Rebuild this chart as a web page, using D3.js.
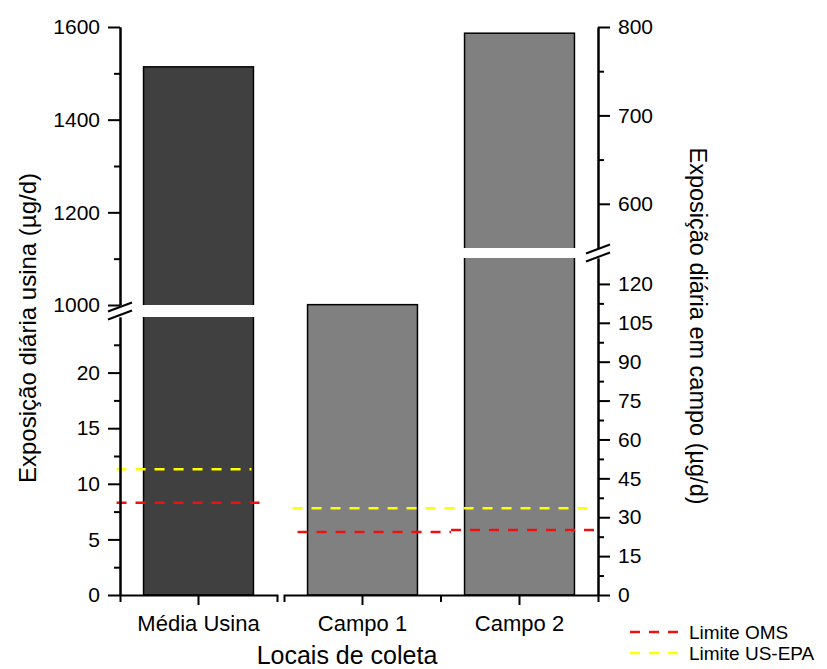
<!DOCTYPE html>
<html>
<head>
<meta charset="utf-8">
<script src="https://cdn.jsdelivr.net/npm/d3@7"></script>
<style>
  body { margin: 0; background: white; }
  text { font-family: "Liberation Sans", Arial, sans-serif; }
</style>
</head>
<body>
<div id="chart"></div>
<script>
// Data
const categoriasUsina = ["Média Usina"];
const categoriasCampo = ["Campo 1", "Campo 2"];
const valoresUsina = [1514];
const valoresCampo = [112, 793];
const limiteOMSUsina = [8.3];
const limiteEPAUsina = [11.3];
const limiteOMSCampo = [24.3, 25.1];
const limiteEPACampo = [33.5, 33.5];

const ticksUsinaBaixo = [0, 5, 10, 15, 20];
const minorUsinaBaixo = [2.5, 7.5, 12.5, 17.5, 22.5];
const ticksUsinaAlto = [1000, 1200, 1400, 1600];
const minorUsinaAlto = [1100, 1300, 1500];
const ticksCampoBaixo = [0, 15, 30, 45, 60, 75, 90, 105, 120];
const minorCampoBaixo = [7.5, 22.5, 37.5, 52.5, 67.5, 82.5, 97.5, 112.5];
const ticksCampoAlto = [600, 700, 800];
const minorCampoAlto = [650, 750];

const legendItems = [
  { label: "Limite OMS", color: "#ee1111" },
  { label: "Limite US-EPA", color: "#ffff00" }
];

let width = 827, height = 669;
let baseY = 595;
let leftX = 120, rightX = 598;

let svg = d3.select('#chart')
  .append('svg')
  .attr('width', width)
  .attr('height', height)
  .style('background', 'white');

// x scales, one per panel
const xUsina = d3.scaleBand()
  .domain(categoriasUsina)
  .range([leftX, 277])
  .paddingInner(0.3)
  .paddingOuter(0.15);

const xCampo = d3.scaleBand()
  .domain(categoriasCampo)
  .range([284, rightX])
  .paddingInner(0.3)
  .paddingOuter(0.15);

// broken y scales
const yUsinaBaixo = d3.scaleLinear().domain([0, 25]).range([baseY, 317]);
const yUsinaAlto = d3.scaleLinear().domain([1000, 1600]).range([305, 27]);
const yCampoBaixo = d3.scaleLinear().domain([0, 130]).range([baseY, 258]);
const yCampoAlto = d3.scaleLinear().domain([550, 800]).range([248, 27]);

const usinaColor = "#404040";
const campoColor = "#808080";

// Bars: Média Usina (value in upper segment)
categoriasUsina.forEach((c, i) => {
  const x = xUsina(c), w = xUsina.bandwidth();
  svg.append('rect')
    .attr('x', x).attr('y', yUsinaAlto(valoresUsina[i]))
    .attr('width', w).attr('height', baseY - yUsinaAlto(valoresUsina[i]))
    .attr('fill', usinaColor).attr('stroke', 'black').attr('stroke-width', 1.5);
  // white gap at the break
  svg.append('rect')
    .attr('x', x - 2).attr('y', yUsinaAlto.range()[0])
    .attr('width', w + 4).attr('height', yUsinaBaixo.range()[1] - yUsinaAlto.range()[0])
    .attr('fill', 'white');
});

// Bars: Campo
categoriasCampo.forEach((c, i) => {
  const x = xCampo(c), w = xCampo.bandwidth();
  const v = valoresCampo[i];
  const top = v > 130 ? yCampoAlto(v) : yCampoBaixo(v);
  svg.append('rect')
    .attr('x', x).attr('y', top)
    .attr('width', w).attr('height', baseY - top)
    .attr('fill', campoColor).attr('stroke', 'black').attr('stroke-width', 1.5);
  if (v > 130) {
    svg.append('rect')
      .attr('x', x - 2).attr('y', yCampoAlto.range()[0])
      .attr('width', w + 4).attr('height', yCampoBaixo.range()[1] - yCampoAlto.range()[0])
      .attr('fill', 'white');
  }
});

// Limit lines
const dash = '10,9';
function limitLine(x1, x2, y, color) {
  svg.append('line')
    .attr('x1', x1).attr('x2', x2)
    .attr('y1', y).attr('y2', y)
    .attr('stroke', color)
    .attr('stroke-width', 2.5)
    .attr('stroke-dasharray', dash);
}
let u = categoriasUsina[0];
limitLine(xUsina(u) - 27, xUsina(u) + xUsina.bandwidth() + 9, yUsinaBaixo(limiteOMSUsina[0]), legendItems[0].color);
limitLine(xUsina(u) - 27, xUsina(u) + xUsina.bandwidth() - 2, yUsinaBaixo(limiteEPAUsina[0]), legendItems[1].color);

// OMS in campo, one piece per site
let mid = (xCampo("Campo 1") + xCampo.bandwidth() + xCampo("Campo 2")) / 2;
limitLine(xCampo("Campo 1") - 10, mid + 10, yCampoBaixo(limiteOMSCampo[0]), legendItems[0].color);
limitLine(mid + 10, rightX - 2, yCampoBaixo(limiteOMSCampo[1]), legendItems[0].color);
limitLine(xCampo("Campo 1") - 15, rightX - 8, yCampoBaixo(limiteEPACampo[0]), legendItems[1].color);

// Axis helper
function styleAxis(g) {
  g.selectAll('path, line').attr('stroke', 'black').attr('stroke-width', 2);
  g.selectAll('text').attr('fill', 'black').style('font-size', '21px');
}

function yAxis(scale, axisFn, x, major, minor) {
  let g = svg.append('g')
    .attr('transform', `translate(${x},0)`)
    .call(axisFn(scale).tickValues(major).tickFormat(d => d).tickSize(12).tickSizeOuter(0).tickPadding(8));
  styleAxis(g);
  let m = svg.append('g')
    .attr('transform', `translate(${x},0)`)
    .call(axisFn(scale).tickValues(minor).tickSize(6).tickSizeOuter(0).tickFormat(''));
  styleAxis(m);
}

yAxis(yUsinaAlto, d3.axisLeft, leftX, ticksUsinaAlto, minorUsinaAlto);
yAxis(yUsinaBaixo, d3.axisLeft, leftX, ticksUsinaBaixo, minorUsinaBaixo);
yAxis(yCampoAlto, d3.axisRight, rightX, ticksCampoAlto, minorCampoAlto);
yAxis(yCampoBaixo, d3.axisRight, rightX, ticksCampoBaixo, minorCampoBaixo);

// x axes
let xa1 = svg.append('g')
  .attr('transform', `translate(0,${baseY})`)
  .call(d3.axisBottom(xUsina).tickSize(10).tickSizeOuter(7).tickPadding(10));
styleAxis(xa1);
xa1.selectAll('text').style('font-size', '22px');

let xa2 = svg.append('g')
  .attr('transform', `translate(0,${baseY})`)
  .call(d3.axisBottom(xCampo).tickSize(10).tickSizeOuter(7).tickPadding(10));
styleAxis(xa2);
xa2.selectAll('text').style('font-size', '22px');

svg.append('line')
  .attr('x1', mid).attr('x2', mid)
  .attr('y1', baseY).attr('y2', baseY + 7)
  .attr('stroke', 'black').attr('stroke-width', 2);

// break marks
function breakMark(x, yTop, yBot) {
  let c = (yTop + yBot) / 2;
  [-4, 4].forEach(o => {
    svg.append('line')
      .attr('x1', x - 12).attr('y1', c + o + 4.5)
      .attr('x2', x + 12).attr('y2', c + o - 4.5)
      .attr('stroke', 'black').attr('stroke-width', 2);
  });
}
breakMark(leftX, yUsinaAlto.range()[0], yUsinaBaixo.range()[1]);
breakMark(rightX, yCampoAlto.range()[0], yCampoBaixo.range()[1]);

// Axis titles
svg.append('text')
  .text('Locais de coleta')
  .attr('x', 347)
  .attr('y', 664)
  .attr('text-anchor', 'middle')
  .style('font-size', '25px');

svg.append('text')
  .text('Exposição diária usina (µg/d)')
  .attr('transform', 'translate(36,328) rotate(-90)')
  .attr('text-anchor', 'middle')
  .style('font-size', '24px');

svg.append('text')
  .text('Exposição diária em campo (µg/d)')
  .attr('transform', 'translate(690,326) rotate(90)')
  .attr('text-anchor', 'middle')
  .style('font-size', '23.5px');

// Legend
const legend = svg.append('g');
legendItems.forEach((d, i) => {
  let y = 632 + i * 21;
  legend.append('line')
    .attr('x1', 630).attr('x2', 682)
    .attr('y1', y).attr('y2', y)
    .attr('stroke', d.color)
    .attr('stroke-width', 2.5)
    .attr('stroke-dasharray', dash);
  legend.append('text')
    .attr('x', 689)
    .attr('y', y)
    .attr('dy', '0.35em')
    .text(d.label)
    .style('font-size', '19px');
});
</script>
</body>
</html>
